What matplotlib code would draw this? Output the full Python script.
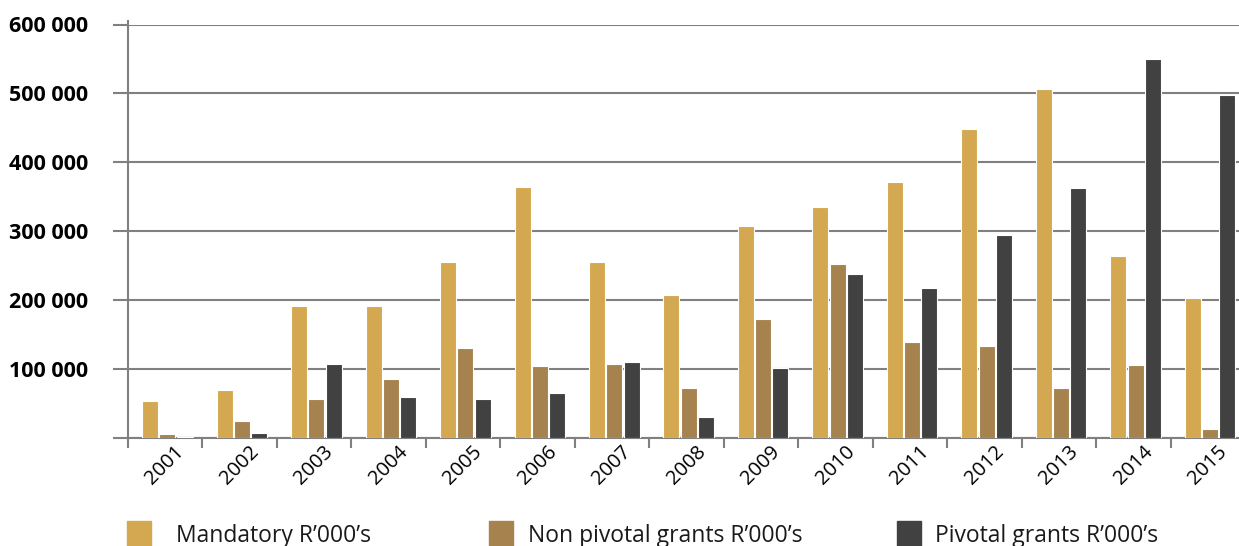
import matplotlib.pyplot as plt
import numpy as np
from matplotlib.patches import Rectangle

plt.rcParams['font.family'] = ['Open Sans', 'DejaVu Sans']

# values (R'000)
years = ["2001", "2002", "2003", "2004", "2005", "2006", "2007", "2008",
         "2009", "2010", "2011", "2012", "2013", "2014", "2015"]
mandatory = [54000, 70000, 192000, 192000, 255000, 364000, 255000, 208000,
             308000, 335000, 372000, 449000, 507000, 264000, 203000]
non_pivotal = [6000, 25000, 57000, 86000, 130000, 104000, 108000, 73000,
               173000, 252000, 140000, 133000, 73000, 106000, 13000]
pivotal = [2000, 7000, 108000, 60000, 57000, 66000, 111000, 31000,
           101000, 238000, 217000, 294000, 363000, 550000, 498000]

names = ["Mandatory R\u2019000\u2019s", "Non pivotal grants R\u2019000\u2019s", "Pivotal grants R\u2019000\u2019s"]
colors = ["#D4A850", "#A6824F", "#414141"]
series = [mandatory, non_pivotal, pivotal]

fig = plt.figure(figsize=(12.39, 5.46), dpi=100)
ax = fig.add_axes([128 / 1239, 1 - 438 / 546, 1117 / 1239, 413.5 / 546])

x = np.arange(len(years))
w = 0.215
step = 0.232
for k, (vals, col) in enumerate(zip(series, colors)):
    ax.bar(x + 0.03 + (k - 1) * step, vals, width=w, color=col,
           edgecolor="white", linewidth=0.8, zorder=3)

ax.set_xlim(-0.5, len(years) - 0.5)
ax.set_ylim(0, 600000)

# y axis: grid lines that also stick out to the left as ticks
# (tick length / pad are in points: 15px ~ 10.8pt, 25px ~ 18pt)
yt = np.arange(0, 600001, 100000)
ax.set_yticks(yt)
ax.set_yticklabels(["" if v == 0 else f"{v:,.0f}".replace(",", " ") for v in yt],
                   fontsize=15.5, fontweight="bold")
ax.tick_params(axis="y", length=10.8, width=1.5, color="#808080", pad=18)
ax.grid(axis="y", color="#808080", linewidth=1.5, zorder=0)

# x axis: labels at centres, small ticks at category boundaries
ax.set_xticks(x)
ax.set_xticklabels(years, rotation=45, fontsize=14.5)
ax.tick_params(axis="x", length=0, pad=3)
ax.set_xticks(np.arange(-0.5, len(years), 1), minor=True)
ax.tick_params(axis="x", which="minor", length=7.2, width=1.5, color="#808080")

for s in ["top", "right"]:
    ax.spines[s].set_visible(False)
ax.spines["left"].set_color("#808080")
ax.spines["left"].set_linewidth(1.5)
ax.spines["bottom"].set_color("#808080")
ax.spines["bottom"].set_linewidth(1.5)
ax.spines["left"].set_bounds(0, 605000)

# legend along the bottom, partly cut off like the original
leg_sq = [127, 489, 897]
leg_tx = [176, 528, 935]
for name, col, sx, tx in zip(names, colors, leg_sq, leg_tx):
    fig.add_artist(Rectangle((sx / 1239, 0), 24 / 1239, 25 / 546,
                             transform=fig.transFigure, color=col))
    fig.text(tx / 1239, 1 - 542 / 546, name, fontsize=16.5, va="baseline",
             ha="left", color="#1a1a1a")

fig.savefig("out.png", dpi=100)
